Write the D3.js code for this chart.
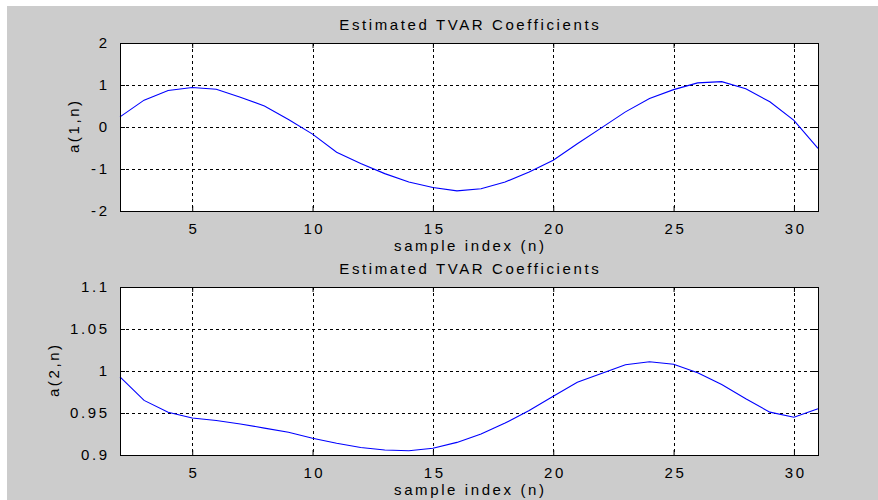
<!DOCTYPE html>
<html>
<head lang="en">
    <meta charset="UTF-8">
    <title> TVAR coefficients </title>
    <script type="text/javascript" src="https://cdn.jsdelivr.net/npm/d3@7"></script>
    <style>
        body { margin: 0; background: #ffffff; }
        svg text { font-family: "Liberation Sans", Arial, sans-serif; font-size: 15px; letter-spacing: 2.6px; fill: #000; }
    </style>
</head>
<body>
<div id="fig"></div>

<script>

    // sample index n and the two estimated coefficient tracks
    var sampleIndex = [2, 3, 4, 5, 6, 7, 8, 9, 10, 11, 12, 13, 14, 15, 16,
                       17, 18, 19, 20, 21, 22, 23, 24, 25, 26, 27, 28, 29, 30, 31];

    var coefA1 = [0.24, 0.64, 0.87, 0.94, 0.90, 0.71, 0.50, 0.18, -0.17, -0.60,
                  -0.87, -1.11, -1.31, -1.44, -1.52, -1.47, -1.31, -1.07, -0.79, -0.40,
                  -0.02, 0.36, 0.68, 0.89, 1.05, 1.08, 0.91, 0.60, 0.16, -0.51];

    var coefA2 = [0.993, 0.965, 0.951, 0.944, 0.941, 0.937, 0.932, 0.927, 0.920, 0.914,
                  0.909, 0.906, 0.905, 0.908, 0.915, 0.925, 0.938, 0.953, 0.970, 0.9865,
                  0.997, 1.0075, 1.011, 1.008, 0.998, 0.984, 0.967, 0.951, 0.945, 0.955];

    var xTicks   = [5, 10, 15, 20, 25, 30];
    var a1Ticks  = [-2, -1, 0, 1, 2];
    var a2Ticks  = [0.9, 0.95, 1, 1.05, 1.1];

    var titleText = "Estimated TVAR Coefficients";
    var xLabel    = "sample index (n)";

    var W = 878, H = 500;
    var left = 120, right = 818;

    var svg = d3.select("#fig").append("svg")
            .attr("width", W)
            .attr("height", H);

    // grey figure background
    svg.append("rect")
            .attr("x", 7).attr("y", 6)
            .attr("width", W - 7).attr("height", H - 6)
            .style("fill", "#cccccc");

    var x = d3.scaleLinear().domain([2, 31]).range([left, right]);

    var panels = [
        { values: coefA1, ticks: a1Ticks, domain: [-2, 2],   top: 43,  bottom: 211, ylab: "a(1,n)", ylabX: 79 },
        { values: coefA2, ticks: a2Ticks, domain: [0.9, 1.1], top: 287, bottom: 455, ylab: "a(2,n)", ylabX: 59 }
    ];

    panels.forEach(function (p) {

        var y = d3.scaleLinear().domain(p.domain).range([p.bottom, p.top]);
        var g = svg.append("g");

        g.append("rect")
                .attr("x", left).attr("y", p.top)
                .attr("width", right - left).attr("height", p.bottom - p.top)
                .style("fill", "white");

        // dashed grid
        g.selectAll(".vgrid").data(xTicks).enter().append("line")
                .attr("x1", function (d) { return Math.round(x(d)) + 0.5; })
                .attr("x2", function (d) { return Math.round(x(d)) + 0.5; })
                .attr("y1", p.top).attr("y2", p.bottom)
                .style("stroke", "#000").style("stroke-width", 1)
                .style("stroke-dasharray", "3,3");

        g.selectAll(".hgrid").data(p.ticks).enter().append("line")
                .attr("y1", function (d) { return Math.round(y(d)) + 0.5; })
                .attr("y2", function (d) { return Math.round(y(d)) + 0.5; })
                .attr("x1", left).attr("x2", right)
                .style("stroke", "#000").style("stroke-width", 1)
                .style("stroke-dasharray", "3,3");

        // the coefficient track
        var line = d3.line()
                .x(function (d, i) { return x(sampleIndex[i]); })
                .y(function (d) { return y(d); });

        g.append("path")
                .datum(p.values)
                .attr("d", line)
                .style("fill", "none")
                .style("stroke", "#0000ff")
                .style("stroke-width", 1.1);

        // axes, ticks pointing inward on all four sides
        var ax = [
            g.append("g").attr("transform", "translate(0," + p.bottom + ")")
                    .call(d3.axisBottom(x).tickValues(xTicks).tickSize(-5).tickSizeOuter(0).tickPadding(12)),
            g.append("g").attr("transform", "translate(0," + p.top + ")")
                    .call(d3.axisTop(x).tickValues(xTicks).tickSize(-5).tickSizeOuter(0).tickFormat("")),
            g.append("g").attr("transform", "translate(" + left + ",0)")
                    .call(d3.axisLeft(y).tickValues(p.ticks).tickSize(-5).tickSizeOuter(0).tickPadding(13)
                            .tickFormat(function (d) { return String(d); })),
            g.append("g").attr("transform", "translate(" + right + ",0)")
                    .call(d3.axisRight(y).tickValues(p.ticks).tickSize(-5).tickSizeOuter(0).tickFormat(""))
        ];
        ax.forEach(function (a) {
            a.select(".domain").remove();
            a.selectAll("line").style("stroke", "#000");
            a.selectAll("text").style("font-size", "15px").attr("fill", "#000");
        });
        ax[0].selectAll("text").attr("dx", "1.3px");
        ax[2].selectAll("text").attr("dx", "2.6px");

        g.append("rect")
                .attr("x", left + 0.5).attr("y", p.top + 0.5)
                .attr("width", right - left).attr("height", p.bottom - p.top)
                .style("fill", "none").style("stroke", "#000").style("stroke-width", 1);

        // labels
        g.append("text")
                .attr("x", (left + right) / 2 + 1.3).attr("y", p.top - 13)
                .attr("text-anchor", "middle")
                .text(titleText);

        g.append("text")
                .attr("x", (left + right) / 2 + 1.3).attr("y", p.bottom + 40)
                .attr("text-anchor", "middle")
                .text(xLabel);

        g.append("text")
                .attr("transform", "translate(" + p.ylabX + "," + ((p.top + p.bottom) / 2) + ") rotate(-90)")
                .attr("text-anchor", "middle")
                .attr("dx", "1.3px")
                .text(p.ylab);
    });

</script>
</body>
</html>
